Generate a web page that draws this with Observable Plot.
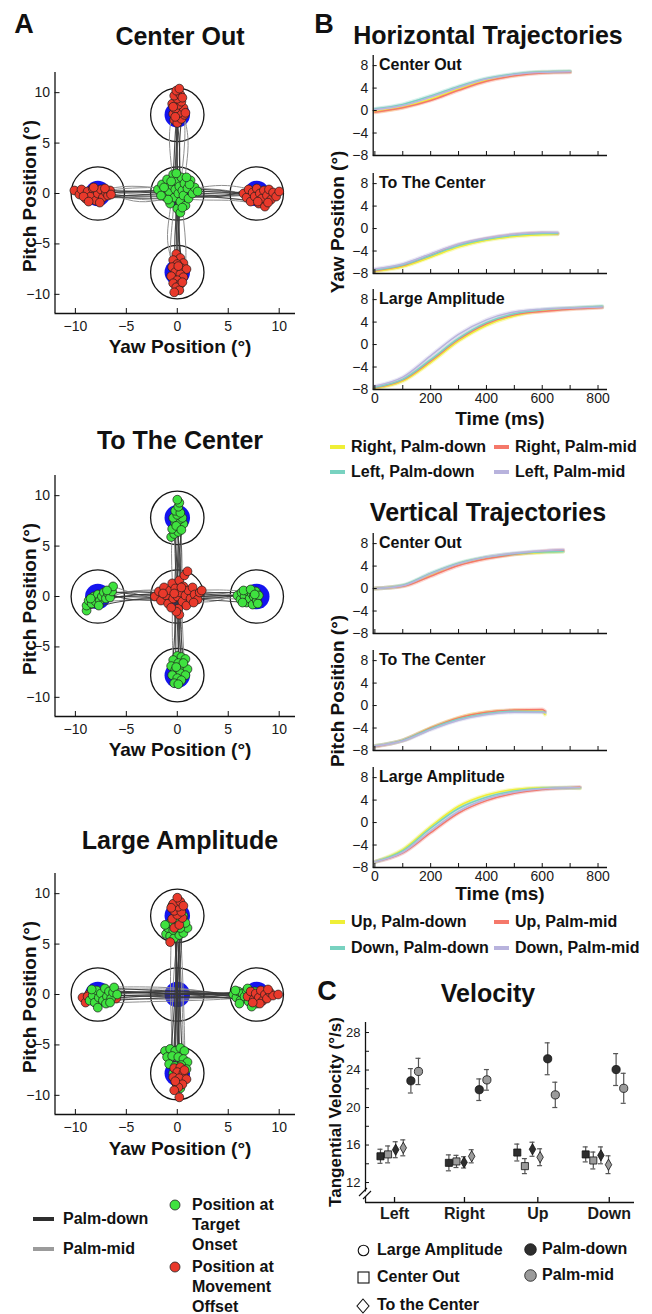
<!DOCTYPE html>
<html><head><meta charset="utf-8">
<script src="https://cdn.jsdelivr.net/npm/d3@7"></script>
<script src="https://cdn.jsdelivr.net/npm/@observablehq/plot@0.6"></script>
<style>
body{margin:0;background:#fff;}
#fig{position:relative;width:652px;height:1314px;font-family:"Liberation Sans",Arial,sans-serif;color:#111;overflow:hidden;background:#fff}
.t{position:absolute;white-space:nowrap;line-height:1;color:#111}
</style></head><body><div id="fig"></div>
<script>
// ---------------- DATA ----------------
// Panel A targets
const tgtX = [0, 0, -7.8, 7.8, 0];
const tgtY = [7.8, -7.8, 0, 0, 0];
const aTicks = [-10, -5, 0, 5, 10];

// Center Out: end positions (red) and start positions (green)
const coGreenCenter = [[-1.9,0.4],[-1.5,0.9],[-1.2,-0.3],[-1.0,1.4],[-0.8,0.2],[-0.7,-1.0],[-0.5,0.8],[-0.4,1.9],[-0.3,-0.4],[-0.2,0.4],[0.0,1.2],[0.0,-1.5],[0.1,0.0],[0.2,0.7],[0.3,-0.8],[0.4,1.6],[0.5,0.3],[0.6,-0.2],[0.7,1.0],[0.8,-1.2],[1.0,0.5],[1.1,-0.5],[1.3,1.3],[1.5,0.0],[1.7,0.6],[2.0,0.2],[-1.3,0.6],[-0.9,-0.6],[0.3,-1.9],[-0.1,2.0],[1.2,0.9],[-0.6,1.2],[0.9,1.6],[-1.6,-0.2],[0.5,-1.4]];
const coRedUp = [[-0.3,7.3],[0.0,7.0],[0.4,7.4],[0.7,7.8],[-0.4,7.9],[0.2,8.0],[0.6,8.5],[-0.2,8.4],[0.1,8.8],[-0.5,8.9],[0.4,9.1],[0.0,9.4],[-0.3,9.7],[0.3,9.8],[-0.1,10.2],[0.2,10.4],[0.8,8.0],[-0.2,7.6],[0.5,9.5],[-0.4,8.6]];
const coRedDown = [[-0.1,-6.0],[0.3,-6.4],[-0.4,-6.6],[0.6,-6.9],[0.0,-7.0],[-0.5,-7.3],[0.4,-7.4],[0.9,-7.5],[-0.2,-7.8],[0.3,-8.0],[-0.6,-8.2],[0.6,-8.3],[0.0,-8.6],[-0.4,-8.9],[0.3,-9.0],[-0.1,-9.3],[0.2,-9.6],[-0.3,-9.8],[0.5,-8.8],[0.1,-7.2]];
const coRedLeft = [[-10.1,0.3],[-9.6,-0.1],[-9.4,0.4],[-9.0,-0.5],[-8.8,0.2],[-8.5,-0.3],[-8.3,0.5],[-8.0,-0.7],[-7.8,0.0],[-7.5,0.4],[-7.3,-0.4],[-7.0,0.1],[-6.8,-0.2],[-6.6,0.3],[-7.6,-0.9],[-8.2,0.6],[-9.2,-0.3],[-7.1,0.5],[-8.7,-0.8],[-6.5,-0.1]];
const coRedRight = [[6.5,0.0],[6.8,-0.4],[7.0,0.4],[7.2,-0.8],[7.4,0.1],[7.6,-0.3],[7.8,0.5],[8.0,-1.0],[8.1,0.0],[8.3,-0.5],[8.5,0.3],[8.6,-1.3],[8.8,-0.2],[9.0,0.4],[9.2,-0.6],[9.4,0.1],[9.7,-0.3],[10.0,0.2],[7.9,-0.8],[8.9,-0.9]];

// To The Center
const tcRedCenter = [[-2.2,0.0],[-1.8,0.5],[-1.6,-0.4],[-1.3,0.9],[-1.1,0.1],[-0.9,-0.7],[-0.7,0.6],[-0.5,1.3],[-0.4,-0.2],[-0.2,0.8],[0.0,0.0],[0.1,-1.2],[0.2,1.6],[0.3,0.4],[0.5,-0.5],[0.6,1.0],[0.8,0.1],[0.9,-0.9],[1.1,0.6],[1.3,-0.2],[1.5,0.9],[1.7,0.2],[2.0,-0.3],[2.2,0.4],[0.2,-1.8],[-0.1,-1.5],[0.7,2.1],[1.0,2.5],[-1.4,0.3],[0.4,0.9],[-0.6,-1.1],[1.6,-0.6],[-0.3,0.3],[2.4,0.6]];
const tcGreenUp = [[-0.6,5.9],[-0.3,6.2],[0.1,6.4],[-0.5,6.7],[0.3,6.9],[0.6,7.2],[-0.2,7.3],[0.2,7.6],[-0.4,7.8],[0.5,7.8],[0.0,8.1],[-0.2,8.5],[0.3,8.3],[0.1,8.9],[0.2,9.3],[-0.1,7.0],[0.4,6.6],[0.0,9.6]];
const tcGreenDown = [[0.0,-5.9],[0.4,-6.0],[-0.4,-6.3],[0.8,-6.2],[0.1,-6.6],[-0.6,-6.9],[0.6,-7.0],[1.0,-7.2],[-0.2,-7.3],[0.3,-7.6],[-0.5,-7.8],[0.8,-7.8],[0.0,-8.1],[0.4,-8.3],[-0.3,-8.6],[0.1,-8.7],[0.6,-6.6],[-0.1,-7.0]];
const tcGreenLeft = [[-8.9,-1.4],[-8.9,-0.9],[-8.7,-0.4],[-8.4,-0.7],[-8.2,0.0],[-8.0,-0.5],[-7.8,0.2],[-7.6,-0.4],[-7.4,0.0],[-7.2,0.4],[-7.0,-0.2],[-6.8,0.3],[-6.6,-0.1],[-6.4,0.5],[-6.3,1.0],[-7.7,-0.9],[-8.5,-0.2],[-6.9,0.6]];
const tcGreenRight = [[5.9,0.1],[6.2,-0.3],[6.3,0.4],[6.6,0.0],[6.8,-0.6],[6.9,0.5],[7.1,-0.2],[7.3,0.3],[7.4,-0.8],[7.5,0.0],[7.7,0.5],[7.8,-0.4],[8.0,0.1],[6.5,0.6],[7.2,0.7],[7.9,-0.7],[6.4,-0.6],[7.6,0.2]];

// Large Amplitude
const laGreenUp = [[-1.1,6.0],[-0.7,5.8],[-0.3,5.6],[0.2,5.9],[0.6,6.1],[1.0,6.6],[-0.9,6.6],[-0.4,6.4],[0.3,6.6],[0.8,7.1],[-0.6,7.2],[0.1,7.4],[-0.2,8.2],[0.4,8.6],[-0.5,8.8],[0.1,9.3],[0.6,7.8],[-1.2,6.9]];
const laRedUp = [[-0.7,5.2],[-0.3,6.6],[0.2,6.9],[-0.5,7.5],[0.5,7.6],[0.0,7.9],[-0.3,8.3],[0.4,8.2],[0.1,8.7],[-0.4,9.0],[0.3,9.2],[0.0,9.6],[-0.6,8.6],[0.6,8.8]];
const laGreenDown = [[-1.2,-5.6],[-0.7,-5.4],[-0.2,-5.6],[0.3,-5.3],[0.7,-5.6],[-1.0,-6.2],[-0.5,-6.1],[0.1,-6.2],[0.6,-6.4],[1.0,-6.7],[-0.8,-6.9],[-0.2,-7.1],[0.4,-7.0],[0.9,-7.4],[-0.4,-7.8],[0.5,-8.2],[-0.1,-8.8],[0.3,-9.3]];
const laRedDown = [[-0.3,-7.3],[0.3,-7.2],[0.0,-7.7],[0.6,-7.8],[-0.4,-8.2],[0.2,-8.3],[0.9,-8.4],[-0.1,-8.8],[0.5,-8.9],[0.1,-9.2],[-0.3,-9.5],[0.2,-10.2],[0.7,-7.5],[-0.2,-8.6]];
const laGreenLeft = [[-8.6,-0.6],[-8.3,-0.1],[-8.1,-0.8],[-7.9,0.4],[-7.7,-0.3],[-7.5,0.1],[-7.3,-0.6],[-7.1,0.6],[-6.9,-0.2],[-6.7,0.3],[-6.5,-0.4],[-6.3,0.2],[-6.2,0.7],[-7.8,-1.3],[-7.0,-0.9],[-8.4,0.5],[-5.9,0.0],[-6.6,-0.8]];
const laRedLeft = [[-9.3,-0.3],[-9.0,-0.8],[-8.7,0.0],[-8.5,-0.5],[-8.2,0.2],[-7.9,-0.9],[-7.6,0.2],[-7.3,-0.2],[-6.0,-0.4],[-8.8,-0.2]];
const laGreenRight = [[5.5,0.0],[5.8,-0.3],[6.0,0.3],[6.2,-0.6],[6.4,0.1],[6.6,-0.2],[6.8,0.4],[7.0,-0.7],[7.2,0.0],[7.4,-0.4],[7.6,0.3],[7.8,-0.9],[6.1,-0.9],[6.9,0.6],[5.7,0.4],[7.3,-1.2]];
const laRedRight = [[6.9,-0.2],[7.2,0.3],[7.5,-0.5],[7.7,0.1],[8.0,-0.3],[8.2,0.4],[8.4,-0.6],[8.6,0.0],[8.8,-0.4],[9.1,0.2],[9.4,-0.1],[9.9,0.0],[8.1,-0.9],[7.4,-0.8],[8.9,0.5]];

// Trajectories: [hand(0 palm-down,1 palm-mid), start along, end along, 4 cross offsets]
const coUp = [[0,0.3,8.3,0.1,0.0,-0.1,0.1],[0,-0.2,9.1,-0.3,-0.2,0.0,-0.1],[0,0.5,7.4,0.4,0.2,0.2,0.4],[0,0,8.8,0.0,0.3,0.2,-0.3],[0,0.2,9.7,-0.5,-0.3,-0.2,0.2],[1,0,7.9,0.3,0.5,0.8,0.7],[1,0.4,8.5,-0.4,-0.6,-0.9,-0.4],[1,0,10.2,0.1,-0.1,0.1,0.2],[0,-0.3,7.0,0.2,-0.1,0.0,0.0],[1,0.2,8.0,0.6,0.9,1.2,0.6]];
const coDown = [[0,-0.2,-8.0,0.0,0.1,0.0,0.3],[0,0.3,-9.3,-0.2,-0.1,0.0,-0.1],[0,0,-7.0,0.3,0.2,0.1,0.4],[0,-0.4,-8.6,0.1,-0.2,-0.3,0.0],[0,0.1,-6.4,-0.3,0.0,0.2,0.3],[1,0,-7.8,0.4,0.6,0.9,0.8],[1,-0.3,-8.9,-0.3,-0.5,-0.8,-0.4],[1,0,-9.8,0.0,-0.2,0.1,-0.3],[0,0.2,-7.4,-0.1,0.2,0.1,0.6],[1,-0.1,-6.9,-0.5,-0.8,-1.1,-0.5]];
const coLeft = [[0,-0.5,-8.2,0.2,0.1,0.0,0.3],[0,0,-9.4,-0.2,-0.3,-0.2,0.4],[0,-0.3,-7.0,0.4,0.3,0.2,0.1],[0,0.2,-10.0,0.0,0.2,0.3,0.3],[0,-0.2,-7.6,-0.4,-0.5,-0.4,-0.4],[1,0,-8.8,0.6,0.6,0.5,0.0],[1,-0.4,-6.6,-0.6,-0.7,-0.5,-0.2],[1,0.3,-9.2,0.3,0.7,0.8,-0.3],[0,0,-8.5,0.1,-0.1,-0.2,-0.7],[1,-0.1,-7.3,-0.2,-0.9,-0.8,0.5]];
const coRight = [[0,0.4,8.1,0.1,0.0,-0.1,0.0],[0,0,9.4,0.3,0.2,0.0,0.1],[0,0.2,7.0,-0.3,-0.4,-0.3,0.4],[0,-0.2,9.9,0.0,-0.2,-0.3,0.2],[0,0.3,7.6,0.5,0.4,0.3,-0.4],[1,0,8.6,-0.5,-0.7,-0.6,-1.2],[1,0.1,6.6,0.6,0.5,0.4,0.0],[1,-0.3,9.0,-0.1,0.3,0.2,-0.6],[0,0,8.4,-0.2,-0.3,-0.5,-0.9],[1,0.2,7.3,0.2,0.7,0.9,0.4]];
const tcUp = [[0,0.5,6.2,0.0,0.0,-0.1,-0.3],[0,-0.3,7.3,-0.3,-0.2,-0.1,-0.2],[0,1.0,8.1,0.3,0.2,0.1,0.0],[0,0,6.8,0.2,0.3,0.4,0.3],[0,-0.8,9.3,-0.1,0.0,0.1,0.2],[1,0.2,7.8,0.5,0.4,0.2,-0.4],[1,-0.5,6.6,-0.4,-0.5,-0.6,-0.5],[1,0,8.5,0.1,-0.2,-0.3,-0.2],[0,0.3,7.0,-0.1,0.1,0.2,0.5],[1,1.2,7.5,0.4,0.5,0.4,0.2]];
const tcDown = [[0,-0.4,-6.0,0.0,0.1,0.2,0.4],[0,0.2,-7.2,-0.2,0.0,0.1,0.1],[0,-1.0,-8.1,0.3,0.2,0.1,0.0],[0,0,-6.6,0.1,0.3,0.4,0.6],[0,0.6,-8.6,-0.1,-0.2,-0.1,-0.3],[1,-0.2,-7.8,0.4,0.5,0.6,0.8],[1,0.4,-6.3,-0.4,-0.5,-0.5,-0.4],[1,0,-7.6,0.2,0.0,0.2,0.3],[0,-0.6,-7.0,-0.3,-0.2,-0.3,-0.5],[1,-1.2,-8.3,0.5,0.4,0.3,0.4]];
const tcLeft = [[0,-0.5,-6.4,0.0,0.1,0.2,0.5],[0,0.3,-7.4,-0.2,-0.1,0.0,0.0],[0,-1.2,-8.4,0.3,0.2,0.0,-0.7],[0,0,-6.8,0.2,0.4,0.5,0.3],[0,0.8,-8.9,-0.1,-0.2,-0.4,-1.3],[1,-0.3,-7.8,0.5,0.6,0.5,0.2],[1,0.5,-6.3,-0.4,-0.3,0.2,1.0],[1,0,-8.7,0.1,-0.1,-0.5,-0.4],[0,-0.8,-7.2,-0.3,-0.4,-0.3,0.4],[1,1.4,-8.0,0.4,0.7,0.6,-0.5]];
const tcRight = [[0,0.5,5.9,0.0,0.0,0.1,0.1],[0,-0.3,6.8,-0.2,-0.3,-0.4,-0.6],[0,1.2,7.5,0.3,0.2,0.1,0.0],[0,0,6.3,0.2,0.3,0.4,0.4],[0,-0.8,8.0,-0.1,0.0,0.1,0.1],[1,0.3,7.1,0.5,0.5,0.3,-0.2],[1,-0.5,6.6,-0.4,-0.6,-0.5,0.6],[1,0,7.8,0.1,-0.1,-0.2,-0.4],[0,0.8,7.3,-0.3,-0.2,0.0,0.3],[1,-1.3,6.9,0.4,0.6,0.7,0.5]];
const laH = [[0,-8.5,9.0,-0.5,-0.1,0.1,0.0],[0,-7.2,8.4,0.3,0.2,-0.1,0.3],[0,-6.2,7.6,0.6,0.4,0.1,-0.4],[0,-8.0,9.8,-0.2,0.0,0.2,0.1],[0,-6.8,6.9,0.1,0.3,0.4,-0.2],[0,-9.2,8.8,-0.7,-0.4,-0.2,-0.5],[0,-7.6,7.4,0.0,-0.2,-0.3,0.2],[1,-8.3,8.1,0.4,0.6,0.5,-0.8],[1,-6.5,9.4,-0.4,-0.5,-0.4,0.3],[1,-7.9,6.4,0.7,0.8,0.6,-0.5],[1,-8.8,8.6,-0.9,-0.7,-0.6,-0.2],[0,-6.0,7.9,0.2,0.1,0.0,0.4],[1,-7.4,7.0,-0.1,0.3,0.2,0.0],[0,-8.6,8.3,0.5,0.2,-0.1,-0.6]];
const laV = [[0,-8.8,9.2,0.3,0.1,-0.1,0.0],[0,-7.3,8.6,-0.2,-0.1,0.1,0.3],[0,-5.8,7.6,-0.6,-0.3,0.0,-0.4],[0,-8.2,9.6,0.1,0.0,-0.2,0.1],[0,-6.6,6.6,0.5,0.3,0.2,0.5],[0,-9.4,8.0,-0.4,-0.2,0.0,-0.3],[0,-7.7,7.2,0.0,0.2,0.3,-0.1],[1,-8.4,8.3,-0.7,-0.5,-0.4,0.4],[1,-6.2,9.0,0.6,0.5,0.3,-0.5],[1,-7.9,5.8,-0.3,-0.6,-0.7,-0.6],[1,-9.0,8.8,0.8,0.7,0.5,0.2],[0,-6.0,7.9,0.2,0.1,0.0,0.6],[1,-7.1,6.9,-0.1,-0.3,-0.1,0.0],[0,-8.6,8.5,-0.5,-0.2,0.1,0.4]];

// Panel B: mean trajectories (time ms, position deg)
const bYTicks = [-8, -4, 0, 4, 8];
const bXMinor = [0, 100, 200, 300, 400, 500, 600, 700, 800];
const bXLabels = [0, 200, 400, 600, 800];
const hCoTime = [0,100,200,300,400,500,600,700];
const hCoRightPD = [-0.2,0.6,2.0,3.8,5.4,6.3,6.8,6.9];
const hCoRightPM = [-0.3,0.5,1.8,3.6,5.2,6.2,6.7,6.8];
const hCoLeftPD = [0.3,1.1,2.6,4.3,5.7,6.5,6.9,7.0];
const hCoLeftPM = [0.2,0.9,2.4,4.1,5.6,6.4,6.8,6.9];
const hTcTime = [0,100,200,300,400,500,600,655];
const hTcRightPD = [-7.6,-6.8,-5.1,-3.3,-2.1,-1.4,-1.1,-1.0];
const hTcRightPM = [-7.5,-6.6,-4.8,-2.9,-1.8,-1.1,-0.8,-0.9];
const hTcLeftPD = [-7.4,-6.5,-4.8,-3.0,-1.9,-1.2,-0.9,-0.9];
const hTcLeftPM = [-7.2,-6.3,-4.5,-2.8,-1.7,-1.0,-0.7,-0.7];
const hLaTime = [0,100,200,300,400,500,600,700,815];
const hLaRightPD = [-7.8,-6.5,-3.2,0.6,3.4,5.1,6.0,6.4,6.7];
const hLaRightPM = [-7.7,-6.3,-2.9,0.9,3.7,5.3,5.9,6.3,6.6];
const hLaLeftPD = [-7.6,-6.2,-2.7,1.1,3.9,5.5,6.2,6.5,6.8];
const hLaLeftPM = [-7.4,-5.8,-2.0,1.8,4.4,5.8,6.3,6.5,6.7];
const vCoTime = [0,100,200,300,400,500,600,675];
const vCoUpPD = [0,0.5,2.5,4.4,5.5,6.1,6.4,6.6];
const vCoUpPM = [0,0.4,2.2,4.1,5.3,6.1,6.6,6.8];
const vCoDownPD = [0,0.6,2.7,4.5,5.6,6.2,6.5,6.6];
const vCoDownPM = [0,0.5,2.6,4.4,5.6,6.3,6.7,6.9];
const vTcTime = [0,100,200,300,400,500,600,610];
const vTcUpPD = [-7.2,-6.2,-4.0,-2.2,-1.2,-0.9,-1.0,-1.6];
const vTcUpPM = [-7.3,-6.2,-4.0,-2.2,-1.2,-0.8,-0.7,-1.0];
const vTcDownPD = [-7.2,-6.2,-4.1,-2.4,-1.4,-1.0,-1.1,-1.2];
const vTcDownPM = [-7.2,-6.3,-4.3,-2.6,-1.6,-1.2,-1.2,-1.3];
const vLaTime = [0,100,200,300,400,500,600,700,735];
const vLaUpPD = [-7.0,-4.8,-0.7,2.9,4.9,5.9,6.2,6.2,6.1];
const vLaUpPM = [-7.0,-5.4,-1.8,1.7,3.9,5.2,5.9,6.2,6.3];
const vLaDownPD = [-7.0,-5.0,-1.0,2.5,4.5,5.6,6.1,6.2,6.2];
const vLaDownPM = [-7.0,-5.3,-1.5,2.0,4.2,5.4,6.0,6.2,6.2];

// Panel C: tangential velocity (mean, error)
const velDirs = ["Left", "Right", "Up", "Down"];
const velTickSlots = [1.85, 11.05, 20.7, 30.1];
const velYTicks = [12, 16, 20, 24, 28];
const velYMinor = [12, 14, 16, 18, 20, 22, 24, 26, 28];
const velCOpd = [14.8, 14.1, 15.2, 15.0], velCOpdErr = [0.75, 0.85, 0.9, 0.8];
const velCOpm = [15.0, 14.25, 13.75, 14.35], velCOpmErr = [0.9, 0.65, 0.8, 0.9];
const velTCpd = [15.5, 14.15, 15.55, 14.9], velTCpdErr = [0.85, 0.6, 0.75, 0.9];
const velTCpm = [15.7, 14.8, 14.7, 13.9], velTCpmErr = [0.85, 0.7, 0.9, 0.95];
const velLApd = [22.85, 21.9, 25.2, 24.05], velLApdErr = [1.3, 1.15, 1.7, 1.7];
const velLApm = [23.85, 22.95, 21.35, 22.05], velLApmErr = [1.4, 1.1, 1.35, 1.6];

// ---------------- STYLE ----------------
const FONT = '"Liberation Sans", Arial, Helvetica, sans-serif';
const GREEN = "#3fe23f", RED = "#e9392b", BLUE = "#1414ee";
const DARK = "#2e2e2e", GRAY = "#9b9b9b";
const bColors = ["#efef36", "#f5786a", "#78d2c0", "#b8b3dd"];

const fig = document.getElementById("fig");
function put(node, left, top) {
  node.style.position = "absolute";
  node.style.left = left + "px";
  node.style.top = top + "px";
  fig.appendChild(node);
}
function txt(s, x, y, size, opt = {}) {
  const d = document.createElement("div");
  d.className = "t";
  d.textContent = s;
  d.style.fontSize = size + "px";
  d.style.fontWeight = opt.weight || "bold";
  d.style.left = x + "px";
  d.style.top = y + "px";
  const a = opt.anchor || "middle";
  const tx = a === "middle" ? "-50%" : a === "end" ? "-100%" : "0";
  d.style.transform = `translate(${tx},-50%)` + (opt.rotate ? ` rotate(${opt.rotate}deg)` : "");
  fig.appendChild(d);
}
function svgIcon(inner, x, y, w, h) {
  const d = document.createElement("div");
  d.innerHTML = `<svg width="${w}" height="${h}" xmlns="http://www.w3.org/2000/svg">${inner}</svg>`;
  d.style.lineHeight = "0";
  put(d, x, y);
}
const plotStyle = {fontFamily: FONT, fontSize: "14px", color: "#1a1a1a", background: "transparent", overflow: "visible"};

// ---------------- PANEL A ----------------
function trajRows(list, vertical) {
  const rows = [];
  list.forEach((t, i) => {
    const [h, a, b, ...o] = t;
    o.forEach((off, j) => {
      const along = a + (b - a) * j / (o.length - 1);
      rows.push({h, x: vertical ? off : along, y: vertical ? along : off});
    });
  });
  return rows;
}
let trajId = 0;
function trajSet(groups) {
  const rows = [];
  for (const [list, vertical] of groups) {
    list.forEach(t => {
      const id = trajId++;
      trajRows([t], vertical).forEach(r => rows.push({...r, id}));
    });
  }
  return rows;
}
function scatterPanel(top, traj, layers) {
  const W = 300, H = 340, mL = 54.5, mR = 5, mT = 72, mB = 27;
  const xd = [-12, 11.6], yd = [-11.9, 12];
  const pw = W - mL - mR, ph = H - mT - mB;
  const kx = pw / (xd[1] - xd[0]);
  const tg = tgtX.map((x, i) => ({x, y: tgtY[i]}));
  const marks = [
    Plot.dot(tg, {x: "x", y: "y", r: 2.62 * kx, fill: "none", stroke: "#151515", strokeWidth: 1.3}),
    Plot.dot(tg, {x: "x", y: "y", r: 1.25 * kx, fill: BLUE}),
    Plot.line(traj.filter(d => d.h === 1), {x: "x", y: "y", z: "id", stroke: "#8f8f8f", strokeWidth: 1.0, curve: "basis"}),
    Plot.line(traj.filter(d => d.h === 0), {x: "x", y: "y", z: "id", stroke: "#3a3a3a", strokeWidth: 1.15, strokeOpacity: 0.9, curve: "basis"}),
    ...layers.map(L => Plot.dot(L.pts, {x: d => d[0], y: d => d[1], r: 4.4, fill: L.fill, stroke: "#1c1c1c", strokeWidth: 0.7})),
    Plot.ruleX([xd[0]], {stroke: "#111", strokeWidth: 1.3}),
    Plot.ruleY([yd[0]], {stroke: "#111", strokeWidth: 1.3}),
    Plot.tickX(aTicks, {x: d => d, insetTop: ph - 5, stroke: "#111"}),
    Plot.tickY(aTicks, {y: d => d, insetRight: pw - 5, stroke: "#111"}),
    Plot.axisX({ticks: aTicks, tickSize: 0, tickPadding: 8, label: null, fontSize: 14}),
    Plot.axisY({ticks: aTicks, tickSize: 0, tickPadding: 5, label: null, fontSize: 14})
  ];
  const svg = Plot.plot({width: W, height: H, marginLeft: mL, marginRight: mR, marginTop: mT, marginBottom: mB,
    x: {domain: xd}, y: {domain: yd}, style: plotStyle, marks});
  put(svg, 0, top);
}

scatterPanel(0,
  trajSet([[coUp, true], [coDown, true], [coLeft, false], [coRight, false]]),
  [{pts: coRedUp, fill: RED}, {pts: coRedDown, fill: RED}, {pts: coRedLeft, fill: RED}, {pts: coRedRight, fill: RED}, {pts: coGreenCenter, fill: GREEN}]);
scatterPanel(403,
  trajSet([[tcUp, true], [tcDown, true], [tcLeft, false], [tcRight, false]]),
  [{pts: tcGreenUp, fill: GREEN}, {pts: tcGreenDown, fill: GREEN}, {pts: tcGreenLeft, fill: GREEN}, {pts: tcGreenRight, fill: GREEN}, {pts: tcRedCenter, fill: RED}]);
scatterPanel(801,
  trajSet([[laV, true], [laH, false]]),
  [{pts: laGreenUp, fill: GREEN}, {pts: laRedUp, fill: RED}, {pts: laGreenDown, fill: GREEN}, {pts: laRedDown, fill: RED},
   {pts: laRedLeft, fill: RED}, {pts: laGreenLeft, fill: GREEN}, {pts: laGreenRight, fill: GREEN}, {pts: laRedRight, fill: RED}]);

txt("A", 24, 24, 27);
txt("Center Out", 180, 36, 25);
txt("To The Center", 180, 440, 25);
txt("Large Amplitude", 180, 840, 25);
[[346, 196], [749, 599], [1148, 997]].forEach(([yl, py]) => {
  txt("Yaw Position (°)", 180, yl, 19);
  txt("Pitch Position (°)", 29, py, 19, {rotate: -90});
});

// Panel A legend
[[DARK, "Palm-down", 1219], [GRAY, "Palm-mid", 1249]].forEach(([c, s, y]) => {
  const d = document.createElement("div");
  d.style.width = "21px"; d.style.height = "4px"; d.style.background = c;
  put(d, 33, y - 2);
  txt(s, 63, y, 16, {anchor: "start"});
});
svgIcon(`<circle cx="6" cy="6" r="5" fill="${GREEN}" stroke="#222" stroke-width="0.8"/>`, 169, 1199, 12, 12);
svgIcon(`<circle cx="6" cy="6" r="5" fill="${RED}" stroke="#222" stroke-width="0.8"/>`, 169, 1261, 12, 12);
[["Position at", 1205], ["Target", 1225], ["Onset", 1245], ["Position at", 1267], ["Movement", 1287], ["Offset", 1307]]
  .forEach(([s, y]) => txt(s, 192, y, 16, {anchor: "start"}));

// ---------------- PANEL B ----------------
function trajPanel(plotTop, times, series, showX, label) {
  const W = 300, H = 130, mL = 52.7, mR = 13, mT = 10, mB = 20;
  const xd = [-6, 834], yd = [-8, 9.8];
  const pw = W - mL - mR, ph = H - mT - mB;
  const rowsOf = vals => times.map((t, i) => ({t, v: vals[i]}));
  const marks = [
    ...series.map((vals, k) => Plot.line(rowsOf(vals), {x: "t", y: "v", stroke: bColors[k], strokeWidth: 4, strokeOpacity: 0.3, curve: "monotone-x"})),
    ...series.map((vals, k) => Plot.line(rowsOf(vals), {x: "t", y: "v", stroke: bColors[k], strokeWidth: 1.5, curve: "monotone-x"})),
    Plot.ruleX([xd[0]], {stroke: "#111", strokeWidth: 1.3}),
    Plot.ruleY([yd[0]], {stroke: "#111", strokeWidth: 1.6}),
    Plot.tickX(bXMinor, {x: d => d, insetTop: ph - 4, stroke: "#111"}),
    Plot.tickY(bYTicks, {y: d => d, insetRight: pw - 4, stroke: "#111"}),
    Plot.axisY({ticks: bYTicks, tickSize: 0, tickPadding: 5, label: null, fontSize: 14}),
    showX ? Plot.axisX({ticks: bXLabels, tickSize: 0, tickPadding: 4, label: null, fontSize: 14}) : null
  ].filter(Boolean);
  const svg = Plot.plot({width: W, height: H, marginLeft: mL, marginRight: mR, marginTop: mT, marginBottom: mB,
    x: {domain: xd, axis: showX ? undefined : null}, y: {domain: yd}, style: plotStyle, marks});
  put(svg, 320, plotTop - mT);
  txt(label, 379, plotTop + 10, 16, {anchor: "start"});
}
trajPanel(55, hCoTime, [hCoRightPD, hCoRightPM, hCoLeftPD, hCoLeftPM], false, "Center Out");
trajPanel(173, hTcTime, [hTcRightPD, hTcRightPM, hTcLeftPD, hTcLeftPM], false, "To The Center");
trajPanel(289, hLaTime, [hLaRightPD, hLaRightPM, hLaLeftPD, hLaLeftPM], true, "Large Amplitude");
trajPanel(533, vCoTime, [vCoUpPD, vCoUpPM, vCoDownPD, vCoDownPM], false, "Center Out");
trajPanel(650, vTcTime, [vTcUpPD, vTcUpPM, vTcDownPD, vTcDownPM], false, "To The Center");
trajPanel(767, vLaTime, [vLaUpPD, vLaUpPM, vLaDownPD, vLaDownPM], true, "Large Amplitude");

txt("B", 324, 24, 27);
txt("Horizontal Trajectories", 488, 35, 25);
txt("Vertical Trajectories", 488, 512, 25);
txt("Yaw Position (°)", 337, 222, 19, {rotate: -90});
txt("Pitch Position (°)", 337, 691, 19, {rotate: -90});
txt("Time (ms)", 500, 418, 19);
txt("Time (ms)", 500, 893, 19);

function bLegend(labels, y1, y2) {
  const pos = [[330, y1], [494, y1], [330, y2], [494, y2]];
  labels.forEach((s, k) => {
    const [x, y] = pos[k];
    const d = document.createElement("div");
    d.style.width = "15px"; d.style.height = "4px"; d.style.background = bColors[k];
    put(d, x, y - 2);
    txt(s, x + 21, y, 16, {anchor: "start"});
  });
}
bLegend(["Right, Palm-down", "Right, Palm-mid", "Left, Palm-down", "Left, Palm-mid"], 447, 472);
bLegend(["Up, Palm-down", "Up, Palm-mid", "Down, Palm-down", "Down, Palm-mid"], 922, 948);

// ---------------- PANEL C ----------------
(function velocityPanel() {
  const W = 332, H = 230, mL = 45, mR = 18, mT = 22, mB = 28;
  const xd = [-1.97, 33.42], yd = [9.87, 29.07];
  const pw = W - mL - mR, ph = H - mT - mB;
  const series = [
    {m: velCOpd, e: velCOpdErr, sym: "square", fill: DARK, r: 4},
    {m: velCOpm, e: velCOpmErr, sym: "square", fill: GRAY, r: 4},
    {m: velTCpd, e: velTCpdErr, sym: "diamond", fill: DARK, r: 3.4},
    {m: velTCpm, e: velTCpmErr, sym: "diamond", fill: GRAY, r: 3.4},
    {m: velLApd, e: velLApdErr, sym: "circle", fill: DARK, r: 4.1},
    {m: velLApm, e: velLApmErr, sym: "circle", fill: GRAY, r: 4.1}
  ];
  const rows = [];
  series.forEach((s, k) => velDirs.forEach((dir, g) => rows.push({slot: 9 * g + k, v: s.m[g], e: s.e[g], sym: s.sym, fill: s.fill, r: s.r})));
  const cap = 0.33;
  const marks = [
    Plot.ruleX(rows, {x: "slot", y1: d => d.v - d.e, y2: d => d.v + d.e, stroke: "#555", strokeWidth: 1.2}),
    Plot.ruleY(rows, {y: d => d.v + d.e, x1: d => d.slot - cap, x2: d => d.slot + cap, stroke: "#555", strokeWidth: 1.2}),
    Plot.ruleY(rows, {y: d => d.v - d.e, x1: d => d.slot - cap, x2: d => d.slot + cap, stroke: "#555", strokeWidth: 1.2}),
    ...["square", "diamond", "circle"].map(sym => Plot.dot(rows.filter(d => d.sym === sym), {
      x: "slot", y: "v", symbol: sym, r: rows.find(d => d.sym === sym).r, fill: d => d.fill, stroke: "#111", strokeWidth: 0.8})),
    Plot.ruleX([xd[0]], {stroke: "#111", strokeWidth: 1.3}),
    Plot.ruleY([yd[0]], {stroke: "#111", strokeWidth: 1.6}),
    Plot.tickY(velYMinor, {y: d => d, insetRight: pw - 4, stroke: "#111"}),
    Plot.tickX(velTickSlots, {x: d => d, insetTop: ph - 5, stroke: "#111", strokeWidth: 1.3}),
    Plot.axisY({ticks: velYTicks, tickSize: 0, tickPadding: 5, label: null, fontSize: 13}),
    Plot.axisX({ticks: velTickSlots, tickFormat: d => velDirs[velTickSlots.indexOf(d)], tickSize: 0, tickPadding: 5, label: null, fontSize: 16, fontWeight: "bold"})
  ];
  const svg = Plot.plot({width: W, height: H, marginLeft: mL, marginRight: mR, marginTop: mT, marginBottom: mB,
    x: {domain: xd}, y: {domain: yd}, color: {type: "identity"}, style: plotStyle, marks});
  put(svg, 320, 1000);
})();
// axis break marks
svgIcon(`<polygon points="3,12 11,4 14,6 6,14" fill="#fff"/><line x1="2" y1="11" x2="10" y2="3" stroke="#111" stroke-width="1.1"/><line x1="6" y1="14" x2="14" y2="6" stroke="#111" stroke-width="1.1"/>`, 357, 1185, 16, 16);

txt("C", 327, 991, 27);
txt("Velocity", 488, 993, 25);
txt("Tangential Velocity (°/s)", 335, 1112, 17, {rotate: -90});

svgIcon(`<circle cx="6.5" cy="6.5" r="5.3" fill="#fff" stroke="#111" stroke-width="1.1"/>`, 356.5, 1243.5, 13, 13);
svgIcon(`<rect x="1" y="1" width="11" height="11" fill="#fff" stroke="#111" stroke-width="1.1"/>`, 357, 1271, 13, 13);
svgIcon(`<polygon points="7,1 13,8 7,15 1,8" fill="#fff" stroke="#111" stroke-width="1.1"/>`, 356, 1297.5, 14, 16);
svgIcon(`<circle cx="6.5" cy="6.5" r="5.8" fill="${DARK}" stroke="#111" stroke-width="0.8"/>`, 523.5, 1243, 13, 13);
svgIcon(`<circle cx="6.5" cy="6.5" r="5.8" fill="${GRAY}" stroke="#111" stroke-width="0.8"/>`, 523.5, 1268.5, 13, 13);
txt("Large Amplitude", 377, 1250, 16, {anchor: "start"});
txt("Center Out", 377, 1277, 16, {anchor: "start"});
txt("To the Center", 377, 1305, 16, {anchor: "start"});
txt("Palm-down", 542, 1249, 16, {anchor: "start"});
txt("Palm-mid", 542, 1275, 16, {anchor: "start"});
</script></body></html>
